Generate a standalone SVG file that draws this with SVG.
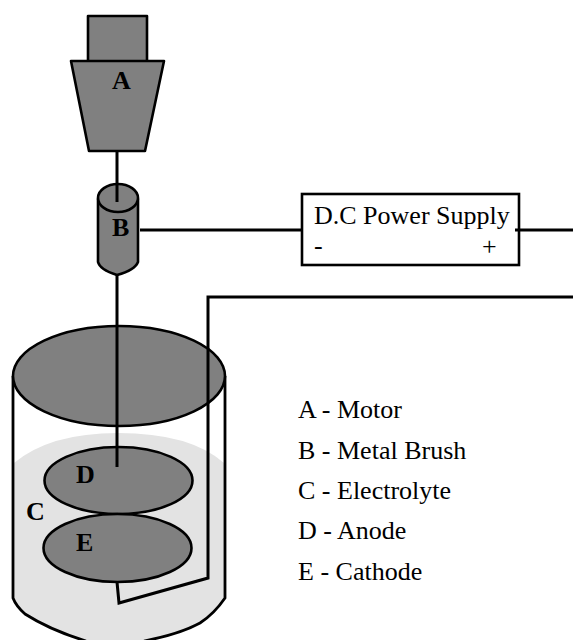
<svg xmlns="http://www.w3.org/2000/svg" width="573" height="640" viewBox="0 0 573 640">
<style>
.g{fill:#808080;stroke:#000;stroke-width:2.6;stroke-linejoin:round}
.w{fill:none;stroke:#000;stroke-width:3}
.t{font-family:"Liberation Serif","Times New Roman",serif;font-size:26px;fill:#000}
.b{font-family:"Liberation Serif","Times New Roman",serif;font-size:26px;font-weight:bold;fill:#000}
</style>
<rect width="573" height="640" fill="#fff"/>
<g id="tank-body">
<path d="M14 463Q50 433 118 433Q190 433 224 463V598Q214 614 200 623Q180 634 140 641H90Q50 630 25 614Q16 606 14 598Z" fill="#e3e3e3"/>
<path d="M13 376V598Q16 606 25 614Q50 630 86 641M225 376V598Q214 614 200 623Q180 634 144 641" fill="none" stroke="#000" stroke-width="2.8"/>
</g>
<g id="tank-top">
<ellipse class="g" cx="119" cy="376" rx="106" ry="50"/>
</g>
<g id="node-D">
<ellipse class="g" cx="118.500" cy="480.500" rx="74" ry="33.500"/>
<text class="b" x="76" y="483">D</text>
</g>
<g id="node-E">
<ellipse class="g" cx="117.500" cy="548" rx="74" ry="34"/>
<text class="b" x="76" y="551">E</text>
</g>
<text id="node-C" class="b" x="26" y="520">C</text>
<g id="node-A">
<rect class="g" x="88" y="16" width="59" height="46"/>
<path class="g" d="M71 61H164L145 151H89Z"/>
<text class="b" x="112" y="89">A</text>
</g>
<g id="node-B">
<path class="g" d="M98 199V262Q100 270 117 275Q135 270 138 262V199Z"/>
<ellipse class="g" cx="118" cy="198" rx="20" ry="14"/>
<text class="b" x="112" y="236">B</text>
</g>
<g id="node-psu">
<rect x="302" y="194" width="217" height="71" fill="#fff" stroke="#000" stroke-width="2.6"/>
<text class="t" x="314" y="224">D.C Power Supply</text>
<text class="t" x="314" y="254">-</text>
<text class="t" x="482" y="255">+</text>
</g>
<g id="connectors">
<path class="w" d="M117 151V202M117 275V467"/>
<path class="w" d="M140 230H302"/>
<path class="w" d="M515 230H573"/>
<path class="w" d="M573 297H208V578L119 603L117 582"/>
</g>
<g id="legend">
<text class="t" x="298" y="418">A - Motor</text>
<text class="t" x="298" y="459">B - Metal Brush</text>
<text class="t" x="298" y="499">C - Electrolyte</text>
<text class="t" x="298" y="539">D - Anode</text>
<text class="t" x="298" y="580">E - Cathode</text>
</g>
</svg>
